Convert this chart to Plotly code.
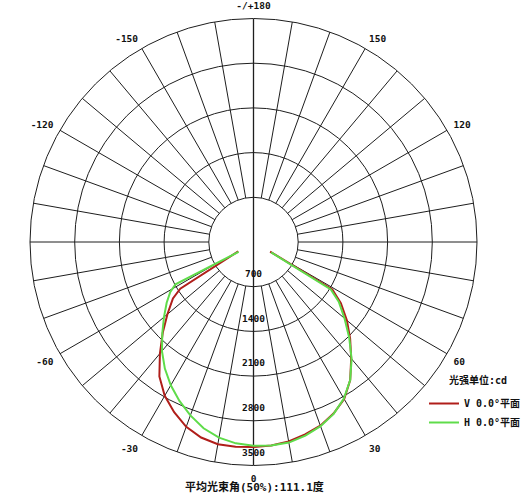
import plotly.graph_objects as go

# angular tick labels (0 at bottom, positive to the right)
ang_vals = [0, 30, 60, 120, 150, 180, 210, 240, 300, 330]
ang_text = ["0", "30", "60", "120", "150", "-/+180", "-150", "-120", "-60", "-30"]

# radial rings, cd
rings = [700, 1400, 2100, 2800, 3500]
ring_text = ["700", "1400", "2100", "2800", "3500"]

# V 0.0 plane (red)
v_theta = [-58.5, -57.5, -55, -50, -45, -40, -35, -30, -25, -20, -15, -10, -5,
           0, 5, 10, 15, 20, 25, 30, 35, 40, 45, 50, 55, 59, 60]
v_r = [280, 1360, 1540, 1760, 2010, 2280, 2570, 2780, 2940, 3080, 3170, 3215, 3220,
       3210, 3200, 3170, 3120, 3060, 2965, 2840, 2640, 2380, 2140, 1910, 1670, 1440, 300]

# H 0.0 plane (green)
h_theta = [-56.5, -61.5, -59, -55, -50, -45, -40, -35, -30, -25, -20, -15, -10, -5,
           0, 5, 10, 15, 20, 25, 30, 35, 40, 45, 50, 55, 58.5, 59.5]
h_r = [280, 1390, 1520, 1660, 1830, 2020, 2230, 2420, 2590, 2745, 2890, 3020, 3110, 3165,
       3190, 3200, 3190, 3140, 3070, 2970, 2830, 2640, 2390, 2120, 1860, 1630, 1420, 320]

R_MAX = 3500
spoke_step = 10
label_shift = 190  # ring labels sit just inside each ring

grid_col = "#1e1e1e"
font_lat = "DejaVu Sans Mono, Noto Sans CJK SC"

# spokes from the first ring to the outer ring, every 10 deg
sp_r, sp_t = [], []
for a in range(spoke_step, 180, spoke_step):
    for s in (a, -a):
        sp_r += [rings[0], R_MAX, None]
        sp_t += [s, s, None]

fig = go.Figure()

fig.add_trace(go.Scatterpolar(r=sp_r, theta=sp_t, mode="lines",
                              line=dict(color=grid_col, width=1),
                              showlegend=False, hoverinfo="skip"))
# full vertical axis through the centre
fig.add_trace(go.Scatterpolar(r=[R_MAX, 0, R_MAX], theta=[0, 0, 180], mode="lines",
                              line=dict(color=grid_col, width=1.3),
                              showlegend=False, hoverinfo="skip"))

fig.add_trace(go.Scatterpolar(r=v_r, theta=v_theta, mode="lines",
                              name="V 0.0°平面",
                              line=dict(color="#b01e1a", width=2)))
fig.add_trace(go.Scatterpolar(r=h_r, theta=h_theta, mode="lines",
                              name="H 0.0°平面",
                              line=dict(color="#5fdc4a", width=2)))

# ring value labels along the 0 deg axis
fig.add_trace(go.Scatterpolar(r=[v - label_shift for v in rings],
                              theta=[0] * len(rings), mode="text",
                              text=ring_text, textposition="middle center",
                              textfont=dict(family=font_lat, size=9.5, color="#111",
                                            weight="bold"),
                              showlegend=False, hoverinfo="skip"))

W, H = 531, 494
cx, cy, rad = 253.5, 242, 223.5

fig.update_layout(
    width=W, height=H,
    margin=dict(l=0, r=0, t=0, b=0),
    paper_bgcolor="white",
    polar=dict(
        domain=dict(x=[(cx - rad) / W, (cx + rad) / W],
                    y=[(H - cy - rad) / H, (H - cy + rad) / H]),
        bgcolor="white",
        angularaxis=dict(rotation=270, direction="counterclockwise",
                         tickmode="array", tickvals=ang_vals, ticktext=ang_text,
                         showgrid=False, showline=True,
                         linecolor=grid_col, linewidth=1,
                         ticks="outside", ticklen=5, tickcolor="rgba(0,0,0,0)",
                         tickfont=dict(family=font_lat, size=9.5,
                                       color="#111", weight="bold")),
        radialaxis=dict(range=[0, R_MAX], tickvals=rings[:-1],
                        showgrid=True, gridcolor=grid_col, gridwidth=1,
                        showline=False, showticklabels=False, ticks=""),
    ),
    legend=dict(x=424 / W, y=(H - 389) / H, xanchor="left", yanchor="top",
                bgcolor="rgba(0,0,0,0)",
                font=dict(family=font_lat, size=10, color="#111", weight="bold"),
                tracegroupgap=0, itemwidth=30),
    annotations=[
        dict(text="光强单位:cd", x=478 / W, y=(H - 380) / H, xref="paper", yref="paper",
             xanchor="center", yanchor="middle", showarrow=False,
             font=dict(family=font_lat, size=10, color="#111", weight="bold")),
        dict(text="平均光束角(50%):111.1度", x=254 / W, y=(H - 487) / H,
             xref="paper", yref="paper", xanchor="center", yanchor="middle",
             showarrow=False,
             font=dict(family=font_lat, size=11, color="#111", weight="bold")),
    ],
    showlegend=True,
    hovermode=False,
)

fig.write_html("out.html", config={"displayModeBar": False},
               post_script="document.body.style.margin='0';")
